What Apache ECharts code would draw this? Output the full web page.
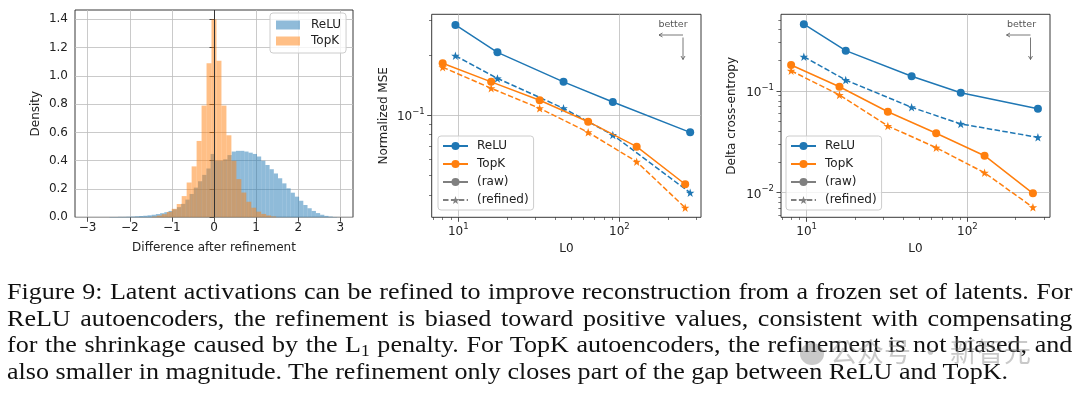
<!DOCTYPE html>
<html>
<head>
<meta charset="utf-8">
<script src="https://cdn.jsdelivr.net/npm/echarts@6/dist/echarts.min.js"></script>
<style>
  body { margin: 0; background: #fff; }
  #wrap { position: relative; width: 1080px; height: 399px; overflow: hidden; }
  #chart { position: absolute; left: 0; top: 0; width: 1080px; height: 399px; }
  #caption {
    position: absolute; left: 7px; top: 278px; width: 981px;
    transform: scaleX(1.086); transform-origin: 0 0;
    font-family: "Liberation Serif", "Times New Roman", serif;
    font-size: 24px; line-height: 26.7px; color: #111;
  }
  #caption div { text-align: justify; text-align-last: justify; }
  #caption div.last { text-align-last: left; }
  #caption sub { font-size: 16px; line-height: 0; vertical-align: -4px; }
  #mark {
    position: absolute; left: 800px; top: 334px; height: 34px;
    font-family: "Noto Sans CJK SC", sans-serif; font-size: 27px; line-height: 34px;
    color: rgba(120, 120, 120, 0.4); white-space: nowrap;
  }
  #mark span.icon {
    display: inline-block; width: 24px; height: 22px; border-radius: 50%;
    background: rgba(120, 120, 120, 0.4); vertical-align: -3px; margin-right: 6px;
  }
</style>
</head>
<body>
<div id="wrap">
  <div id="chart"></div>
  <div id="caption">
    <div>Figure 9: Latent activations can be refined to improve reconstruction from a frozen set of latents. For</div>
    <div>ReLU autoencoders, the refinement is biased toward positive values, consistent with compensating</div>
    <div>for the shrinkage caused by the L<sub>1</sub> penalty. For TopK autoencoders, the refinement is not biased, and</div>
    <div class="last">also smaller in magnitude. The refinement only closes part of the gap between ReLU and TopK.</div>
  </div>
  <div id="mark"><span class="icon"></span>公众号 · 新智元</div>
</div>
<script>
// histogram (left panel)
const reluBinStart = -2.48;
const reluBinWidth = 0.1;
const reluDensity = [
  0.002, 0.002, 0.003, 0.003, 0.004, 0.005, 0.007, 0.009, 0.011, 0.014,
  0.018, 0.023, 0.029, 0.036, 0.045, 0.056, 0.072, 0.095, 0.125, 0.165,
  0.21, 0.255, 0.30, 0.345, 0.448, 0.40, 0.40, 0.41, 0.44, 0.465,
  0.47, 0.47, 0.465, 0.457, 0.448, 0.43, 0.40, 0.37, 0.34, 0.31,
  0.276, 0.24, 0.205, 0.174, 0.146, 0.117, 0.087, 0.064, 0.045, 0.03,
  0.018, 0.01, 0.005, 0.002
];
const topkBinStart = -1.475;
const topkBinWidth = 0.118;
const topkDensity = [
  0.005, 0.012, 0.022, 0.038, 0.06, 0.094, 0.15, 0.246, 0.36, 0.54,
  0.79, 1.09, 1.40, 1.107, 0.79, 0.58, 0.40, 0.27, 0.175, 0.11,
  0.068, 0.04, 0.024, 0.013, 0.006
];
const histXTicks = [-3, -2, -1, 0, 1, 2, 3];
const histYTicks = [0, 0.2, 0.4, 0.6, 0.8, 1.0, 1.2, 1.4];

// L0 sweeps (middle and right panels)
const l0Relu = [9.6, 17.5, 45, 91, 275];
const l0TopK = [8, 16, 32, 64, 128, 256];
const mseReluRaw = [0.283, 0.2065, 0.147, 0.1166, 0.0822];
const mseReluRefined = [0.1986, 0.153, 0.1084, 0.0797, 0.041];
const mseTopKRaw = [0.182, 0.147, 0.119, 0.0929, 0.0697, 0.0452];
const mseTopKRefined = [0.174, 0.1365, 0.1084, 0.0822, 0.0586, 0.0345];
const ceReluRaw = [0.453, 0.249, 0.1396, 0.0962, 0.067];
const ceReluRefined = [0.217, 0.128, 0.0691, 0.0474, 0.035];
const ceTopKRaw = [0.180, 0.110, 0.0625, 0.0384, 0.0231, 0.00986];
const ceTopKRefined = [0.158, 0.0913, 0.0453, 0.0277, 0.0157, 0.00718];

const logMajorX = [10, 100];
const logMinorX = [7, 8, 9, 20, 30, 40, 50, 60, 70, 80, 90, 200, 300];
const mseMajorY = [0.1];
const mseMinorY = [0.04, 0.05, 0.06, 0.07, 0.08, 0.09, 0.2, 0.3];
const ceMajorY = [0.01, 0.1];
const ceMinorY = [0.006, 0.007, 0.008, 0.009, 0.02, 0.03, 0.04, 0.05, 0.06, 0.07, 0.08, 0.09, 0.2, 0.3, 0.4, 0.5];

const BLUE = '#1f77b4';
const ORANGE = '#ff7f0e';
const GRAY = '#7f7f7f';
const FONT = 'DejaVu Sans';
const INK = '#222';
const STAR = 'path://M0,-10L2.35,-3.24L9.51,-3.09L3.8,1.24L5.88,8.09L0,4L-5.88,8.09L-3.8,1.24L-9.51,-3.09L-2.35,-3.24Z';
const DASH = [5.5, 2.4];

const toBins = (start, width, vals) => vals.map((h, i) => [start + i * width, start + (i + 1) * width, h]);

const histSeries = (name, start, width, vals, color) => ({
  type: 'custom', name: name, xAxisIndex: 0, yAxisIndex: 0,
  itemStyle: { color: color },
  encode: { x: [0, 1], y: 2 },
  data: toBins(start, width, vals),
  renderItem: (params, api) => {
    const p0 = api.coord([api.value(0), api.value(2)]);
    const p1 = api.coord([api.value(1), 0]);
    return {
      type: 'rect',
      shape: { x: p0[0], y: p0[1], width: p1[0] - p0[0], height: p1[1] - p0[1] },
      style: { fill: color }
    };
  }
});

const pairs = (xs, ys) => xs.map((x, i) => [x, ys[i]]);
const lineSeries = (name, ax, xs, ys, color, refined) => ({
  type: 'line', name: name, xAxisIndex: ax, yAxisIndex: ax,
  data: pairs(xs, ys),
  symbol: refined ? STAR : 'circle',
  symbolSize: refined ? 8.5 : 8,
  itemStyle: { color: color },
  lineStyle: { color: color, width: 1.5, type: refined ? DASH : 'solid' },
  z: refined ? 3 : 4
});

const supFmt = v => {
  const e = Math.round(Math.log10(v));
  return '{b|10}{s|' + (e < 0 ? '\u2212' + (-e) : e) + '}';
};
const supRich = {
  b: { fontSize: 12, color: INK, fontFamily: FONT, verticalAlign: 'bottom', lineHeight: 16 },
  s: { fontSize: 8.5, color: INK, fontFamily: FONT, verticalAlign: 'top', lineHeight: 9 }
};

const tickStyle = { color: INK, width: 0.8 };
const gridLine = { show: true, lineStyle: { color: '#bdbdbd', width: 0.8 } };

const logMain = (dim, grid, min, max, major, name, gap) => ({
  type: 'log', logBase: 10, gridIndex: grid, min: min, max: max,
  position: dim === 'x' ? 'bottom' : 'left',
  axisLine: { show: false },
  axisTick: { show: true, length: 4.5, lineStyle: tickStyle, customValues: major },
  axisLabel: { customValues: major, formatter: supFmt, rich: supRich, margin: dim === 'x' ? 5 : 7 },
  splitLine: gridLine,
  minorTick: { show: false },
  name: name, nameLocation: 'middle', nameGap: gap,
  nameTextStyle: { fontSize: 12, color: INK, fontFamily: FONT }
});
const logMinor = (dim, grid, min, max, minor) => ({
  type: 'log', logBase: 10, gridIndex: grid, min: min, max: max,
  position: dim === 'x' ? 'bottom' : 'left',
  axisLine: { show: false },
  axisTick: { show: true, length: 2.7, lineStyle: { color: INK, width: 0.6 }, customValues: minor },
  axisLabel: { show: false },
  splitLine: { show: false }
});

const legendBase = {
  orient: 'vertical', selectedMode: false,
  backgroundColor: 'rgba(255,255,255,0.8)', borderColor: '#cccccc', borderWidth: 1, borderRadius: 3,
  textStyle: { fontSize: 12, color: INK, fontFamily: FONT, lineHeight: 14, padding: [0, 0, 0, 4] }
};
const lineLegend = left => Object.assign({}, legendBase, {
  left: left, top: 136, padding: [3, 5, 3, 4], itemWidth: 25, itemHeight: 10, itemGap: 4,
  data: [
    { name: 'ReLU ' },
    { name: 'TopK ' },
    { name: '(raw)' },
    { name: '(refined)', lineStyle: { type: DASH } }
  ]
});

const arrowGraphics = (tx, ax) => [
  { type: 'text', x: tx, y: 25, style: { text: 'better', fill: '#555', font: '9.5px "DejaVu Sans"', textAlign: 'center', textVerticalAlign: 'middle' } },
  { type: 'line', shape: { x1: ax, y1: 35, x2: ax - 24, y2: 35 }, style: { stroke: '#555', lineWidth: 0.8 } },
  { type: 'polyline', shape: { points: [[ax - 20.5, 33], [ax - 24, 35], [ax - 20.5, 37]] }, style: { stroke: '#555', lineWidth: 0.8, fill: null } },
  { type: 'line', shape: { x1: ax, y1: 37.5, x2: ax, y2: 59.5 }, style: { stroke: '#555', lineWidth: 0.8 } },
  { type: 'polyline', shape: { points: [[ax - 2, 56], [ax, 59.5], [ax + 2, 56]] }, style: { stroke: '#555', lineWidth: 0.8, fill: null } }
];

const chart = echarts.init(document.getElementById('chart'), null, { renderer: 'canvas' });
chart.setOption({
  animation: false,
  textStyle: { fontFamily: FONT },
  grid: [
    { left: 75, top: 10, width: 278, height: 207.3, show: true, borderColor: INK, borderWidth: 0.9, backgroundColor: 'transparent', outerBoundsMode: 'none' },
    { left: 431.7, top: 14.3, width: 269.3, height: 203, show: true, borderColor: INK, borderWidth: 0.9, backgroundColor: 'transparent', outerBoundsMode: 'none' },
    { left: 781, top: 14.3, width: 269, height: 203, show: true, borderColor: INK, borderWidth: 0.9, backgroundColor: 'transparent', outerBoundsMode: 'none' }
  ],
  legend: [
    Object.assign({}, legendBase, {
      left: 270, top: 13, padding: [5, 5, 5, 6], itemWidth: 24, itemHeight: 9, itemGap: 2,
      textStyle: Object.assign({}, legendBase.textStyle, { padding: [0, 0, 0, 6] }),
      data: [
        { name: 'ReLU', icon: 'rect', itemStyle: { color: 'rgba(31,119,180,0.5)' } },
        { name: 'TopK', icon: 'rect', itemStyle: { color: 'rgba(255,127,14,0.5)' } }
      ]
    }),
    lineLegend(438),
    lineLegend(786)
  ],
  xAxis: [
    {
      type: 'value', gridIndex: 0, min: -3.3, max: 3.3,
      axisLine: { show: false },
      axisTick: { show: true, length: 4.5, lineStyle: tickStyle, customValues: histXTicks },
      axisLabel: { customValues: histXTicks, fontSize: 12, color: INK, margin: 5,
        formatter: v => (v < 0 ? '\u2212' : '') + Math.abs(Math.round(v)) },
      splitLine: gridLine,
      name: 'Difference after refinement', nameLocation: 'middle', nameGap: 25,
      nameTextStyle: { fontSize: 12, color: INK }
    },
    logMain('x', 1, 6.84, 321, logMajorX, 'L0', 25),
    logMinor('x', 1, 6.84, 321, logMinorX),
    logMain('x', 2, 6.92, 327, logMajorX, 'L0', 25),
    logMinor('x', 2, 6.92, 327, logMinorX)
  ],
  yAxis: [
    {
      type: 'value', gridIndex: 0, min: 0, max: 1.466,
      axisLine: { show: false },
      axisTick: { show: true, length: 4.5, lineStyle: tickStyle, customValues: histYTicks },
      axisLabel: { customValues: histYTicks, fontSize: 12, color: INK, margin: 7, formatter: v => v.toFixed(1) },
      splitLine: gridLine,
      name: 'Density', nameLocation: 'middle', nameGap: 33,
      nameTextStyle: { fontSize: 12, color: INK }
    },
    logMain('y', 1, 0.0309, 0.32, mseMajorY, 'Normalized MSE', 42),
    logMinor('y', 1, 0.0309, 0.32, mseMinorY),
    logMain('y', 2, 0.00573, 0.567, ceMajorY, 'Delta cross-entropy', 43),
    logMinor('y', 2, 0.00573, 0.567, ceMinorY)
  ],
  series: [
    histSeries('ReLU', reluBinStart, reluBinWidth, reluDensity, 'rgba(31,119,180,0.5)'),
    Object.assign(histSeries('TopK', topkBinStart, topkBinWidth, topkDensity, 'rgba(255,127,14,0.5)'), {
      markLine: {
        silent: true, symbol: ['none', 'none'], label: { show: false },
        lineStyle: { color: '#333', width: 1, type: 'solid' },
        data: [{ xAxis: 0 }]
      }
    }),
    lineSeries('ReLU ', 1, l0Relu, mseReluRaw, BLUE, false),
    lineSeries('TopK ', 1, l0TopK, mseTopKRaw, ORANGE, false),
    lineSeries('ReLU refined', 1, l0Relu, mseReluRefined, BLUE, true),
    lineSeries('TopK refined', 1, l0TopK, mseTopKRefined, ORANGE, true),
    lineSeries('(raw)', 1, [], [], GRAY, false),
    lineSeries('(refined)', 1, [], [], GRAY, true),
    lineSeries('ReLU ', 3, l0Relu, ceReluRaw, BLUE, false),
    lineSeries('TopK ', 3, l0TopK, ceTopKRaw, ORANGE, false),
    lineSeries('ReLU refined', 3, l0Relu, ceReluRefined, BLUE, true),
    lineSeries('TopK refined', 3, l0TopK, ceTopKRefined, ORANGE, true)
  ],
  graphic: arrowGraphics(673, 683).concat(arrowGraphics(1021.5, 1030.5))
});
</script>
</body>
</html>
